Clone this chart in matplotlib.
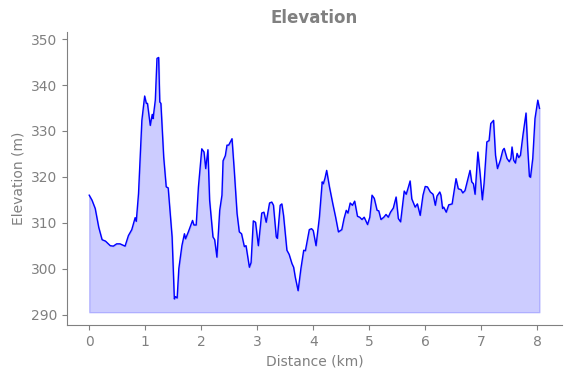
import matplotlib
matplotlib.use('Agg')
import matplotlib.pyplot as plt

# distance (km) and elevation (m)
dist = [0.0, 0.05, 0.107, 0.17, 0.23, 0.29, 0.375, 0.43, 0.49, 0.55, 0.64, 0.70, 0.76, 0.82, 0.84,
        0.88, 0.94, 0.99, 1.02, 1.04, 1.09, 1.125, 1.14, 1.18, 1.21, 1.24, 1.26, 1.28, 1.33, 1.375,
        1.41, 1.48, 1.52, 1.54, 1.57, 1.60, 1.655, 1.70, 1.72, 1.77, 1.80, 1.845, 1.87, 1.91, 1.95,
        2.01, 2.05, 2.08, 2.12, 2.15, 2.21, 2.24, 2.28, 2.33, 2.37, 2.39, 2.43, 2.46, 2.49, 2.55,
        2.59, 2.64, 2.68, 2.72, 2.77, 2.80, 2.86, 2.89, 2.93, 2.97, 3.02, 3.08, 3.12, 3.16, 3.22,
        3.26, 3.29, 3.34, 3.36, 3.41, 3.44, 3.47, 3.53, 3.57, 3.62, 3.65, 3.68, 3.73, 3.78, 3.83,
        3.86, 3.93, 3.97, 4.0, 4.05, 4.11, 4.16, 4.18, 4.21, 4.24, 4.29, 4.35, 4.40, 4.45, 4.51,
        4.55, 4.59, 4.62, 4.66, 4.70, 4.74, 4.79, 4.83, 4.87, 4.91, 4.97, 5.01, 5.05, 5.09, 5.14,
        5.17, 5.21, 5.26, 5.30, 5.34, 5.38, 5.43, 5.48, 5.52, 5.56, 5.625, 5.66, 5.70, 5.73, 5.76,
        5.82, 5.86, 5.91, 5.96, 6.0, 6.04, 6.09, 6.14, 6.18, 6.21, 6.26, 6.28, 6.31, 6.33, 6.375,
        6.42, 6.48, 6.51, 6.55, 6.59, 6.64, 6.67, 6.71, 6.755, 6.80, 6.83, 6.86, 6.89, 6.94, 6.98,
        7.02, 7.05, 7.10, 7.14, 7.17, 7.22, 7.255, 7.29, 7.34, 7.385, 7.41, 7.46, 7.50, 7.53, 7.55,
        7.58, 7.61, 7.64, 7.67, 7.70, 7.745, 7.80, 7.83, 7.86, 7.88, 7.92, 7.96, 8.01, 8.04]
elev = [316.0, 314.9, 313.1, 309.0, 306.3, 306.0, 305.0, 304.9, 305.4, 305.4, 304.9, 307.2, 308.5, 311.1, 310.3,
        316.3, 332.3, 337.6, 336.0, 336.0, 331.2, 333.6, 332.7, 336.7, 345.8, 346.0, 336.3, 336.0, 324.3, 317.8,
        317.6, 306.9, 293.4, 293.9, 293.6, 300.0, 305.0, 307.6, 306.5, 308.0, 309.0, 310.5, 309.5, 309.5, 317.8,
        326.1, 325.4, 321.8, 325.9, 314.9, 306.9, 306.3, 302.5, 312.7, 316.0, 323.5, 324.6, 326.9, 326.9, 328.3,
        321.4, 312.0, 308.0, 307.6, 304.8, 305.0, 300.3, 301.3, 310.4, 310.1, 305.0, 312.1, 312.3, 310.1, 314.3,
        314.5, 313.8, 306.9, 306.6, 313.8, 314.1, 311.6, 304.0, 303.1, 301.1, 300.3, 298.1, 295.2, 300.0, 304.0,
        303.9, 308.5, 308.7, 308.3, 305.0, 311.2, 318.9, 318.5, 319.7, 321.4, 317.8, 314.1, 311.2, 308.0, 308.5,
        310.9, 312.7, 312.1, 314.3, 313.8, 314.7, 311.4, 311.2, 310.7, 311.2, 309.6, 311.2, 316.0, 315.3, 312.7,
        312.6, 310.7, 311.2, 311.8, 311.2, 312.3, 313.2, 315.6, 310.9, 310.2, 316.9, 316.2, 317.8, 319.1, 315.2,
        313.4, 314.1, 311.6, 316.0, 317.9, 317.8, 316.7, 316.2, 313.8, 315.8, 316.7, 316.0, 313.1, 313.4, 312.3,
        313.9, 314.1, 316.5, 319.6, 317.4, 317.2, 316.5, 317.0, 319.2, 321.4, 318.9, 318.5, 316.2, 325.4, 320.7,
        315.0, 318.5, 327.6, 327.9, 331.6, 332.3, 324.7, 321.8, 323.6, 325.8, 326.2, 324.0, 323.3, 324.0, 326.5,
        323.6, 323.0, 325.1, 324.2, 324.7, 329.1, 333.9, 326.2, 320.1, 319.9, 324.0, 332.7, 336.7, 334.9]
base = 290.5

gray = '#808080'
plt.rcParams['font.family'] = 'DejaVu Sans'

fig, ax = plt.subplots(figsize=(5.71, 3.78), dpi=100)
fig.subplots_adjust(left=0.117, right=0.984, top=0.916, bottom=0.14)

ax.fill_between(dist, elev, base, color='blue', alpha=0.2)
ax.plot(dist, elev, color='blue', lw=1)

ax.set_ylim(287.7, 351.6)
ax.set_xlim(-0.4, 8.44)
ax.set_yticks([290, 300, 310, 320, 330, 340, 350])
ax.set_xticks(range(0, 9))

ax.set_title('Elevation', color=gray, fontweight='bold', fontsize=12)
ax.set_xlabel('Distance (km)', color=gray)
ax.set_ylabel('Elevation (m)', color=gray)

for s in ['top', 'right']:
    ax.spines[s].set_visible(False)
for s in ['left', 'bottom']:
    ax.spines[s].set_color(gray)
ax.tick_params(colors=gray)

plt.savefig('out.png')
